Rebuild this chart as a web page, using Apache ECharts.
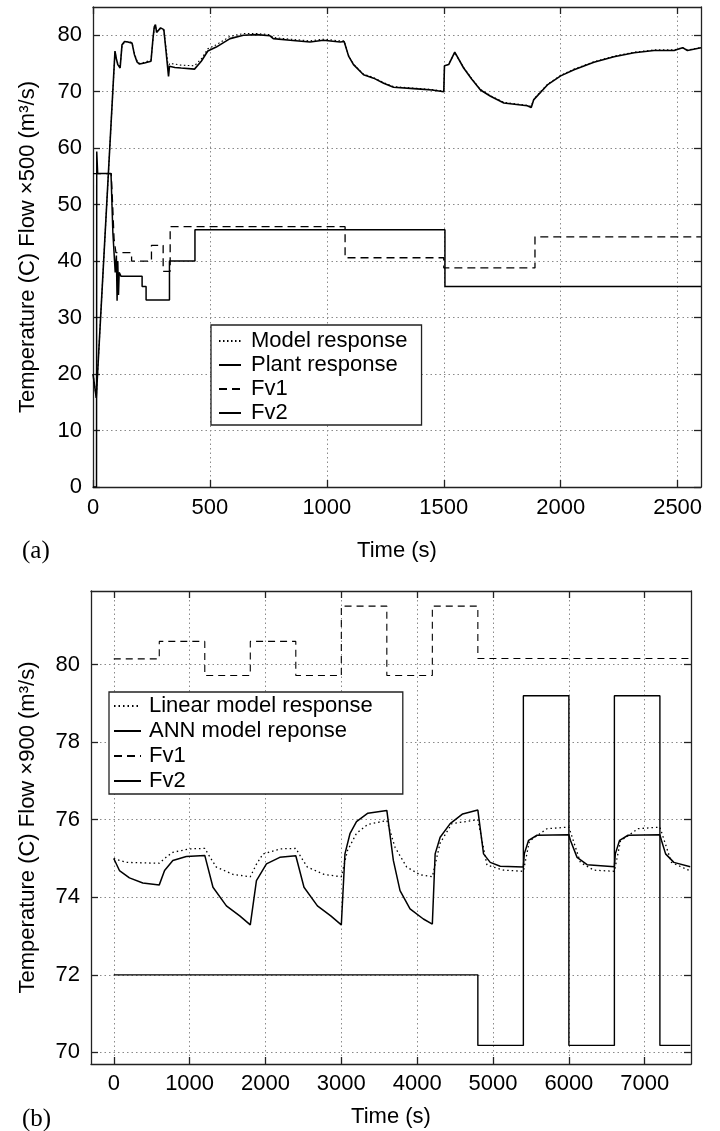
<!DOCTYPE html>
<html>
<head>
<meta charset="utf-8">
<script src="https://cdn.jsdelivr.net/npm/echarts@6/dist/echarts.min.js"></script>
<style>html,body{margin:0;padding:0;background:#fff}#c{width:720px;height:1131px}</style>
</head>
<body>
<div id="c"></div>
<script>
// ---------- Panel (a) data ----------
const aXTicks = [0, 500, 1000, 1500, 2000, 2500];
const aYTicks = [0, 10, 20, 30, 40, 50, 60, 70, 80];
const plantT = [0, 14, 94, 100, 106, 116, 124, 135, 149, 167, 177, 188, 199, 220, 248, 256, 262, 267, 272, 277, 289, 303, 313, 323, 327, 350, 377, 434, 463, 491, 527, 586, 643, 700, 757, 771, 843, 928, 985, 1057, 1074, 1093, 1114, 1157, 1200, 1243, 1285, 1386, 1450, 1500, 1503, 1521, 1547, 1585, 1620, 1657, 1700, 1757, 1857, 1874, 1885, 1943, 2000, 2057, 2142, 2228, 2314, 2399, 2485, 2521, 2542, 2600];
const plantV = [20, 15.8, 77.2, 75.8, 74.8, 74.2, 78.3, 78.9, 78.8, 78.6, 76.6, 75.3, 74.9, 75.1, 75.4, 79.2, 81.5, 81.9, 80.5, 80.7, 81.3, 81, 76.9, 72.7, 74.5, 74.3, 74.2, 74, 75.4, 77.2, 77.9, 79.4, 80, 80.1, 79.9, 79.4, 79.1, 78.8, 79.1, 78.8, 78.9, 76.3, 74.8, 73, 72.4, 71.5, 70.8, 70.5, 70.3, 70, 74.6, 74.8, 77, 74.2, 72.2, 70.3, 69.2, 68, 67.5, 67.2, 68.6, 71.2, 72.8, 73.9, 75.2, 76.2, 76.9, 77.3, 77.3, 77.8, 77.3, 77.8];
const modelT = plantT;
const modelV = [20, 15.8, 77.0, 75.9, 75.0, 74.5, 78.1, 78.8, 78.9, 78.7, 76.8, 75.5, 75.0, 75.2, 75.6, 79.0, 81.2, 81.6, 80.7, 80.9, 81.2, 80.8, 77.5, 74.0, 75.0, 74.9, 74.7, 74.6, 75.8, 77.6, 78.3, 79.8, 80.3, 80.3, 80.1, 79.6, 79.3, 79.0, 79.3, 79.0, 79.0, 76.4, 74.9, 73.1, 72.5, 71.6, 70.9, 70.6, 70.4, 70.1, 74.5, 74.9, 76.9, 74.3, 72.3, 70.4, 69.3, 68.1, 67.6, 67.4, 68.7, 71.3, 72.9, 74.0, 75.3, 76.3, 77.0, 77.4, 77.4, 77.8, 77.4, 77.8];
const aFv1T = [0, 78, 84, 90, 98, 165, 165, 250, 250, 300, 300, 330, 330, 1078, 1078, 1500, 1500, 1890, 1890, 2600];
const aFv1V = [55.5, 55.5, 50, 44, 41.5, 41.5, 40, 40, 42.8, 42.8, 38.2, 38.2, 46.1, 46.1, 40.6, 40.6, 38.8, 38.8, 44.3, 44.3];
const aFv2T = [0, 15, 16, 20, 77, 85, 95, 100, 103, 106, 109, 112, 120, 210, 210, 227, 227, 327, 327, 436, 436, 1505, 1505, 2600];
const aFv2V = [0, 0, 59.4, 55.5, 55.5, 45, 38, 41, 33, 40, 34, 38, 37.3, 37.3, 35.5, 35.5, 33.1, 33.1, 40, 40, 45.55, 45.55, 35.5, 35.5];

// ---------- Panel (b) data ----------
const bXTicks = [0, 1000, 2000, 3000, 4000, 5000, 6000, 7000];
const bYTicks = [70, 72, 74, 76, 78, 80];
const linT = [0, 164, 560, 600, 700, 779, 1000, 1200, 1280, 1352, 1572, 1800, 1880, 1968, 2200, 2400, 2480, 2552, 2772, 3000, 3080, 3200, 3350, 3600, 3708, 3862, 4038, 4200, 4303, 4457, 4800, 4920, 5139, 5400, 5480, 5712, 6000, 6152, 6328, 6600, 6680, 6912, 7200, 7352, 7600];
const linV = [75.0, 74.9, 74.88, 74.88, 75.05, 75.16, 75.25, 75.26, 75.0, 74.78, 74.59, 74.53, 74.85, 75.12, 75.25, 75.26, 75.0, 74.78, 74.59, 74.53, 75.2, 75.65, 75.88, 75.98, 75.29, 74.78, 74.58, 74.53, 75.4, 75.9, 76.0, 74.83, 74.7, 74.67, 75.45, 75.77, 75.81, 74.9, 74.7, 74.67, 75.45, 75.77, 75.81, 74.9, 74.68];
const annT = [0, 75, 207, 383, 600, 670, 779, 956, 1200, 1308, 1485, 1661, 1800, 1881, 2013, 2189, 2400, 2508, 2685, 2861, 3000, 3048, 3114, 3200, 3350, 3600, 3686, 3774, 3906, 4082, 4200, 4237, 4303, 4435, 4600, 4800, 4875, 4963, 5095, 5400, 5412, 5469, 5580, 6000, 6020, 6108, 6240, 6600, 6612, 6669, 6780, 7200, 7220, 7275, 7384, 7600];
const annV = [75.0, 74.69, 74.5, 74.37, 74.32, 74.69, 74.95, 75.05, 75.08, 74.26, 73.78, 73.52, 73.29, 74.43, 74.86, 75.03, 75.07, 74.26, 73.78, 73.52, 73.29, 75.12, 75.64, 75.95, 76.17, 76.24, 74.95, 74.17, 73.7, 73.44, 73.31, 75.12, 75.55, 75.9, 76.15, 76.25, 75.12, 74.9, 74.8, 74.78, 75.12, 75.47, 75.6, 75.61, 75.47, 75.03, 74.84, 74.79, 75.12, 75.47, 75.6, 75.61, 75.47, 75.12, 74.9, 74.79];
const bFv1T = [0, 600, 600, 1200, 1200, 1800, 1800, 2400, 2400, 3000, 3000, 3600, 3600, 4200, 4200, 4800, 4800, 7600];
const bFv1V = [80.15, 80.15, 80.6, 80.6, 79.72, 79.72, 80.6, 80.6, 79.72, 79.72, 81.51, 81.51, 79.72, 79.72, 81.51, 81.51, 80.16, 80.16];
const bFv2T = [0, 4800, 4800, 5400, 5400, 6000, 6000, 6600, 6600, 7200, 7200, 7600];
const bFv2V = [72, 72, 70.18, 70.18, 79.2, 79.2, 70.18, 70.18, 79.2, 79.2, 70.18, 70.18];

const zip = (t, v) => t.map((x, i) => [x, v[i]]);
const FONT = 'Liberation Sans, Arial, Helvetica, sans-serif';
const axisLineStyle = { color: '#222', width: 1.3 };
const gridLine = { show: true, lineStyle: { color: '#8a8a8a', type: [1.5, 3], width: 1 } };
const plain = v => String(v);

function mainX(grid, min, max, ticks, nameGap, margin) {
  return {
    gridIndex: grid, type: 'value', position: 'bottom', min, max,
    name: 'Time (s)', nameLocation: 'middle', nameGap,
    nameTextStyle: { fontSize: 22, fontFamily: FONT, color: '#000' },
    axisLine: { show: true, onZero: false, lineStyle: axisLineStyle },
    axisTick: { show: true, inside: true, length: 7, lineStyle: axisLineStyle, customValues: ticks },
    axisLabel: { fontSize: 22, fontFamily: FONT, color: '#000', margin, customValues: ticks, formatter: plain },
    splitLine: gridLine
  };
}
function topX(grid, min, max, ticks) {
  return {
    gridIndex: grid, type: 'value', position: 'top', min, max,
    axisLine: { show: true, onZero: false, lineStyle: axisLineStyle },
    axisTick: { show: true, inside: true, length: 7, lineStyle: axisLineStyle, customValues: ticks },
    axisLabel: { show: false, customValues: ticks },
    splitLine: { show: false }
  };
}
function mainY(grid, min, max, ticks, name, nameGap) {
  return {
    gridIndex: grid, type: 'value', position: 'left', min, max,
    name, nameLocation: 'middle', nameGap, nameRotate: 90,
    nameTextStyle: { fontSize: 22, fontFamily: FONT, color: '#000' },
    axisLine: { show: true, onZero: false, lineStyle: axisLineStyle },
    axisTick: { show: true, inside: true, length: 7, lineStyle: axisLineStyle, customValues: ticks },
    axisLabel: { fontSize: 22, fontFamily: FONT, color: '#000', margin: 11, customValues: ticks, formatter: plain },
    splitLine: gridLine
  };
}
function rightY(grid, min, max, ticks) {
  return {
    gridIndex: grid, type: 'value', position: 'right', min, max,
    axisLine: { show: true, onZero: false, lineStyle: axisLineStyle },
    axisTick: { show: true, inside: true, length: 7, lineStyle: axisLineStyle, customValues: ticks },
    axisLabel: { show: false, customValues: ticks },
    splitLine: { show: false }
  };
}
function line(name, xi, yi, data, type, width) {
  return {
    name, type: 'line', xAxisIndex: xi, yAxisIndex: yi, data,
    symbol: 'none', showSymbol: false, smooth: false, animation: false,
    lineStyle: { color: '#000', width, type },
    itemStyle: { color: '#000' }
  };
}

const chart = echarts.init(document.getElementById('c'), null, { renderer: 'canvas' });
chart.setOption({
  backgroundColor: '#fff',
  animation: false,
  grid: [
    { left: 93, top: 7, width: 608, height: 480 },
    { left: 91, top: 591, width: 600, height: 473 }
  ],
  xAxis: [
    mainX(0, 0, 2600, aXTicks, 53, 10),
    topX(0, 0, 2600, aXTicks),
    mainX(1, -300, 7610, bXTicks, 42, 9),
    topX(1, -300, 7610, bXTicks)
  ],
  yAxis: [
    mainY(0, 0, 85, aYTicks, 'Temperature (C) Flow \u00d7500 (m\u00b3/s)', 54),
    rightY(0, 0, 85, aYTicks),
    mainY(1, 69.7, 81.9, bYTicks, 'Temperature (C) Flow \u00d7900 (m\u00b3/s)', 52),
    rightY(1, 69.7, 81.9, bYTicks)
  ],
  legend: [
    {
      data: ['Model response', 'Plant response', 'Fv1', 'Fv2'],
      orient: 'vertical', left: 211, top: 325,
      itemWidth: 22, itemHeight: 10, itemGap: 2,
      padding: [5, 14, 1, 7],
      borderColor: '#222', borderWidth: 1.3, backgroundColor: '#fff',
      itemStyle: { opacity: 0 },
      textStyle: { fontSize: 22, fontFamily: FONT, color: '#000', padding: [0, 0, 0, 5] },
      selectedMode: false
    },
    {
      data: ['Linear model response', 'ANN model reponse', 'Fv1', 'Fv2'],
      orient: 'vertical', left: 109, top: 692,
      itemWidth: 27, itemHeight: 10, itemGap: 3,
      padding: [3, 30, 2, 4],
      borderColor: '#222', borderWidth: 1.3, backgroundColor: '#fff',
      itemStyle: { opacity: 0 },
      textStyle: { fontSize: 22, fontFamily: FONT, color: '#000', padding: [0, 0, 0, 3] },
      selectedMode: false
    }
  ],
  graphic: [
    { type: 'text', left: 22, top: 539, style: { text: '(a)', font: '25px "Liberation Serif", "Times New Roman", serif', fill: '#000' } },
    { type: 'text', left: 22, top: 1107, style: { text: '(b)', font: '25px "Liberation Serif", "Times New Roman", serif', fill: '#000' } }
  ],
  series: [
    line('Model response', 0, 0, zip(modelT, modelV), [1.5, 2.5], 1.1),
    line('Plant response', 0, 0, zip(plantT, plantV), 'solid', 1.6),
    line('Fv1', 0, 0, zip(aFv1T, aFv1V), [8, 5], 1.3),
    line('Fv2', 0, 0, zip(aFv2T, aFv2V), 'solid', 1.5),
    line('Linear model response', 2, 2, zip(linT, linV), [1.5, 3], 1.3),
    line('ANN model reponse', 2, 2, zip(annT, annV), 'solid', 1.5),
    line('Fv1', 2, 2, zip(bFv1T, bFv1V), [7, 5], 1.1),
    line('Fv2', 2, 2, zip(bFv2T, bFv2V), 'solid', 1.4)
  ]
});
</script>
</body>
</html>
